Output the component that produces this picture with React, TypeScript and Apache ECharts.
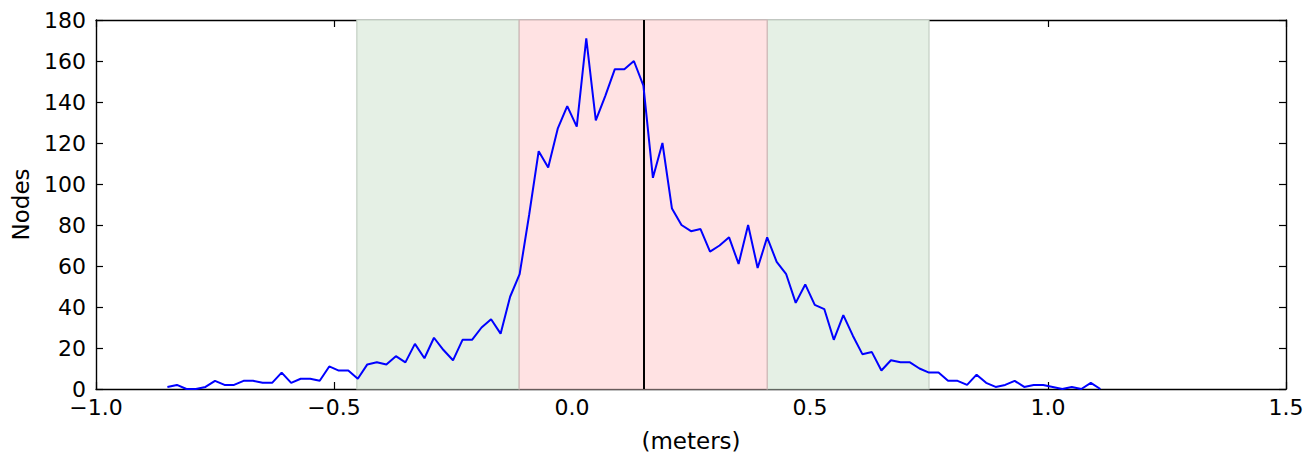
import React, { useEffect, useRef } from "react";
import * as echarts from "echarts";

const offsets = [
  -0.85, -0.83, -0.81, -0.79, -0.77, -0.75, -0.73, -0.71, -0.69, -0.67,
  -0.65, -0.63, -0.61, -0.59, -0.57, -0.55, -0.53, -0.51, -0.49, -0.47,
  -0.45, -0.43, -0.41, -0.39, -0.37, -0.35, -0.33, -0.31, -0.29, -0.27,
  -0.25, -0.23, -0.21, -0.19, -0.17, -0.15, -0.13, -0.11, -0.09, -0.07,
  -0.05, -0.03, -0.01, 0.01, 0.03, 0.05, 0.07, 0.09, 0.11, 0.13,
  0.15, 0.17, 0.19, 0.21, 0.23, 0.25, 0.27, 0.29, 0.31, 0.33,
  0.35, 0.37, 0.39, 0.41, 0.43, 0.45, 0.47, 0.49, 0.51, 0.53,
  0.55, 0.57, 0.59, 0.61, 0.63, 0.65, 0.67, 0.69, 0.71, 0.73,
  0.75, 0.77, 0.79, 0.81, 0.83, 0.85, 0.87, 0.89, 0.91, 0.93,
  0.95, 0.97, 0.99, 1.01, 1.03, 1.05, 1.07, 1.09, 1.11,
];

const nodes = [
  1, 2, 0, 0, 1, 4, 2, 2, 4, 4,
  3, 3, 8, 3, 5, 5, 4, 11, 9, 9,
  5, 12, 13, 12, 16, 13, 22, 15, 25, 19,
  14, 24, 24, 30, 34, 27, 45, 56, 85, 116,
  108, 127, 138, 128, 171, 131, 143, 156, 156, 160,
  148, 103, 120, 88, 80, 77, 78, 67, 70, 74,
  61, 80, 59, 74, 62, 56, 42, 51, 41, 39,
  24, 36, 26, 17, 18, 9, 14, 13, 13, 10,
  8, 8, 4, 4, 2, 7, 3, 1, 2, 4,
  1, 2, 2, 1, 0, 1, 0, 3, 0,
];

const outerBand = [-0.452, 0.75];
const innerBand = [-0.111, 0.41];
const centerLine = 0.149;

const xTicks = { min: -1.0, max: 1.5, interval: 0.5 };
const yTicks = { min: 0, max: 180, interval: 20 };

const FONT = "DejaVu Sans";
const fmt = (v: number) => {
  const s = Math.abs(v).toFixed(1);
  return v < 0 ? "\u2212" + s : s;
};

export default function App() {
  const ref = useRef<HTMLDivElement>(null);
  useEffect(() => {
    const chart = echarts.init(ref.current!, undefined, { renderer: "svg" });
    const green = "#e5f0e5";
    const red = "#ffe2e3";
    const tickStyle = { show: true, inside: true, length: 7, lineStyle: { color: "#000", width: 1.2 } };
    chart.setOption({
      animation: false,
      backgroundColor: "#fff",
      grid: { left: 96, right: 30, top: 20, bottom: 70, containLabel: false },
      xAxis: [
        {
          type: "value",
          min: xTicks.min,
          max: xTicks.max,
          interval: xTicks.interval,
          name: "(meters)",
          nameLocation: "middle",
          nameGap: 40,
          nameTextStyle: { fontFamily: FONT, fontSize: 23, color: "#000" },
          axisLine: { show: true, onZero: false, lineStyle: { color: "#000", width: 1.4 } },
          axisTick: tickStyle,
          axisLabel: { formatter: fmt, fontFamily: FONT, fontSize: 22, color: "#000", margin: 7 },
          splitLine: { show: false },
        },
        {
          type: "value",
          position: "top",
          min: xTicks.min,
          max: xTicks.max,
          interval: xTicks.interval,
          axisLine: { show: true, onZero: false, lineStyle: { color: "#000", width: 1.4 } },
          axisTick: tickStyle,
          axisLabel: { show: false },
          splitLine: { show: false },
        },
      ],
      yAxis: [
        {
          type: "value",
          min: yTicks.min,
          max: yTicks.max,
          interval: yTicks.interval,
          name: "Nodes",
          nameLocation: "middle",
          nameGap: 64,
          nameTextStyle: { fontFamily: FONT, fontSize: 23, color: "#000" },
          axisLine: { show: true, onZero: false, lineStyle: { color: "#000", width: 1.4 } },
          axisTick: tickStyle,
          axisLabel: { fontFamily: FONT, fontSize: 22, color: "#000", margin: 10 },
          splitLine: { show: false },
        },
        {
          type: "value",
          position: "right",
          min: yTicks.min,
          max: yTicks.max,
          interval: yTicks.interval,
          axisLine: { show: true, onZero: false, lineStyle: { color: "#000", width: 1.4 } },
          axisTick: tickStyle,
          axisLabel: { show: false },
          splitLine: { show: false },
        },
      ],
      series: [
        {
          type: "line",
          xAxisIndex: 0,
          yAxisIndex: 0,
          data: offsets.map((x, i) => [x, nodes[i]]),
          showSymbol: false,
          symbol: "none",
          lineStyle: { color: "#0000ff", width: 2 },
          z: 5,
          markArea: {
            silent: true,
            data: [
              [
                { xAxis: outerBand[0], itemStyle: { color: green, borderColor: "#c3cfc3", borderWidth: 1.2 } },
                { xAxis: innerBand[0] },
              ],
              [
                { xAxis: innerBand[1], itemStyle: { color: green, borderColor: "#c3cfc3", borderWidth: 1.2 } },
                { xAxis: outerBand[1] },
              ],
              [
                { xAxis: innerBand[0], itemStyle: { color: red, borderColor: "#cfb6b6", borderWidth: 1.2 } },
                { xAxis: innerBand[1] },
              ],
            ],
          },
          markLine: {
            silent: true,
            symbol: "none",
            label: { show: false },
            lineStyle: { color: "#000", width: 2, type: "solid" },
            data: [{ xAxis: centerLine }],
          },
        },
      ],
    });
    return () => chart.dispose();
  }, []);
  return (
    <div
      ref={ref}
      style={{ position: "fixed", left: 0, top: 0, width: 1316, height: 459 }}
    />
  );
}
